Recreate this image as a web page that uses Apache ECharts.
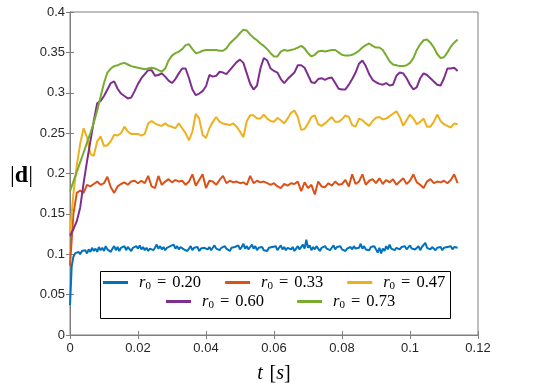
<!DOCTYPE html>
<html>
<head>
<meta charset="utf-8">
<script src="https://cdn.jsdelivr.net/npm/echarts@6/dist/echarts.min.js"></script>
<style>
html,body{margin:0;padding:0;background:#fff;}
#chart{width:545px;height:388px;}
</style>
</head>
<body>
<div id="chart"></div>
<script>
var r0Labels = ['0.20', '0.33', '0.47', '0.60', '0.73'];
var colors = ['#0072BD', '#D95319', '#EDB120', '#7E2F8E', '#77AC30'];
var xTickLabels = ['0', '0.02', '0.04', '0.06', '0.08', '0.1', '0.12'];
var yTickLabels = ['0', '0.05', '0.1', '0.15', '0.2', '0.25', '0.3', '0.35', '0.4'];

// r0 = 0.20, sampled every 0.0005 s
var d020 = [
    0.037, 0.085, 0.097, 0.101, 0.099, 0.103, 0.100, 0.104, 0.102, 0.105, 0.101, 0.106, 0.103, 0.108, 0.104, 0.107, 0.103, 0.109, 0.105, 0.108,
    0.104, 0.110, 0.106, 0.108, 0.103, 0.107, 0.110, 0.105, 0.109, 0.104, 0.108, 0.106, 0.110, 0.105, 0.109, 0.107, 0.104, 0.108, 0.106, 0.110,
    0.107, 0.111, 0.106, 0.109, 0.105, 0.108, 0.104, 0.107, 0.109, 0.105, 0.108, 0.112, 0.107, 0.110, 0.106, 0.109, 0.105, 0.108, 0.106, 0.110,
    0.108, 0.112, 0.107, 0.110, 0.106, 0.109, 0.111, 0.106, 0.108, 0.104, 0.107, 0.110, 0.105, 0.108, 0.106, 0.109, 0.104, 0.107, 0.105, 0.108,
    0.110, 0.106, 0.109, 0.105, 0.108, 0.111, 0.107, 0.109, 0.105, 0.108, 0.106, 0.110, 0.107, 0.109, 0.104, 0.108, 0.106, 0.109, 0.107, 0.111,
    0.106, 0.109, 0.113, 0.107, 0.110, 0.106, 0.109, 0.112, 0.107, 0.110, 0.105, 0.108, 0.106, 0.109, 0.105, 0.107, 0.104, 0.108, 0.106, 0.109,
    0.107, 0.110, 0.105, 0.108, 0.111, 0.106, 0.109, 0.105, 0.108, 0.110, 0.106, 0.109, 0.104, 0.107, 0.110, 0.106, 0.108, 0.112, 0.107, 0.118,
    0.108, 0.111, 0.105, 0.109, 0.106, 0.110, 0.107, 0.104, 0.108, 0.106, 0.110, 0.107, 0.109, 0.105, 0.108, 0.111, 0.106, 0.109, 0.107, 0.110,
    0.106, 0.108, 0.104, 0.107, 0.105, 0.109, 0.106, 0.110, 0.107, 0.105, 0.108, 0.113, 0.107, 0.110, 0.106, 0.108, 0.105, 0.109, 0.107, 0.110,
    0.106, 0.102, 0.108, 0.101, 0.107, 0.104, 0.110, 0.106, 0.112, 0.107, 0.109, 0.105, 0.108, 0.110, 0.106, 0.109, 0.107, 0.110, 0.106, 0.108,
    0.111, 0.107, 0.109, 0.106, 0.108, 0.110, 0.105, 0.109, 0.107, 0.114, 0.108, 0.110, 0.106, 0.109, 0.107, 0.105, 0.108, 0.106, 0.109, 0.105,
    0.108, 0.106, 0.109, 0.107, 0.110, 0.106, 0.109, 0.107, 0.108
];
// the others every 0.001 s
var d033 = [
    0.086, 0.150, 0.176, 0.179, 0.176, 0.186, 0.184, 0.187, 0.190, 0.186,
    0.188, 0.196, 0.183, 0.176, 0.184, 0.187, 0.189, 0.186, 0.190, 0.191,
    0.188, 0.191, 0.188, 0.197, 0.184, 0.182, 0.197, 0.186, 0.190, 0.193,
    0.189, 0.192, 0.190, 0.191, 0.186, 0.190, 0.199, 0.185, 0.192, 0.199,
    0.182, 0.191, 0.190, 0.186, 0.192, 0.197, 0.188, 0.191, 0.189, 0.190,
    0.188, 0.189, 0.186, 0.197, 0.188, 0.191, 0.189, 0.190, 0.188, 0.186,
    0.188, 0.184, 0.182, 0.187, 0.185, 0.188, 0.187, 0.190, 0.178, 0.189,
    0.182, 0.186, 0.174, 0.190, 0.184, 0.183, 0.188, 0.185, 0.190, 0.186,
    0.187, 0.192, 0.184, 0.199, 0.187, 0.190, 0.199, 0.186, 0.191, 0.193,
    0.188, 0.194, 0.187, 0.192, 0.189, 0.193, 0.186, 0.190, 0.194, 0.187,
    0.191, 0.199, 0.189, 0.186, 0.182, 0.190, 0.193, 0.188, 0.190, 0.189,
    0.191, 0.188, 0.192, 0.199, 0.188
];
var d047 = [
    0.125, 0.175, 0.210, 0.237, 0.256, 0.245, 0.224, 0.222, 0.240, 0.246,
    0.234, 0.235, 0.240, 0.248, 0.247, 0.250, 0.258, 0.252, 0.249, 0.249,
    0.249, 0.247, 0.249, 0.262, 0.265, 0.262, 0.260, 0.259, 0.262, 0.259,
    0.258, 0.256, 0.262, 0.256, 0.250, 0.241, 0.252, 0.274, 0.268, 0.248,
    0.244, 0.256, 0.264, 0.270, 0.264, 0.262, 0.261, 0.260, 0.262, 0.258,
    0.252, 0.245, 0.265, 0.272, 0.272, 0.268, 0.268, 0.273, 0.268, 0.265,
    0.264, 0.269, 0.266, 0.262, 0.268, 0.275, 0.278, 0.270, 0.254, 0.255,
    0.262, 0.270, 0.272, 0.261, 0.259, 0.262, 0.266, 0.270, 0.264, 0.264,
    0.267, 0.272, 0.270, 0.260, 0.258, 0.268, 0.266, 0.262, 0.259, 0.265,
    0.269, 0.270, 0.267, 0.268, 0.271, 0.274, 0.277, 0.270, 0.259, 0.266,
    0.273, 0.268, 0.261, 0.264, 0.268, 0.258, 0.258, 0.264, 0.273, 0.265,
    0.261, 0.259, 0.257, 0.262, 0.261
];
var d060 = [
    0.123, 0.131, 0.141, 0.158, 0.188, 0.215, 0.240, 0.265, 0.287, 0.290,
    0.296, 0.304, 0.312, 0.314, 0.305, 0.299, 0.296, 0.293, 0.294, 0.302,
    0.311, 0.318, 0.323, 0.328, 0.328, 0.321, 0.322, 0.324, 0.320, 0.315,
    0.312, 0.317, 0.324, 0.330, 0.330, 0.318, 0.304, 0.297, 0.299, 0.302,
    0.308, 0.322, 0.320, 0.321, 0.326, 0.325, 0.323, 0.328, 0.333, 0.338,
    0.341, 0.337, 0.324, 0.311, 0.304, 0.309, 0.330, 0.343, 0.340, 0.330,
    0.327, 0.325, 0.317, 0.312, 0.317, 0.321, 0.325, 0.334, 0.334, 0.331,
    0.322, 0.313, 0.312, 0.317, 0.318, 0.316, 0.318, 0.319, 0.312, 0.305,
    0.304, 0.304, 0.310, 0.317, 0.325, 0.336, 0.340, 0.333, 0.323, 0.316,
    0.313, 0.311, 0.310, 0.312, 0.309, 0.310, 0.321, 0.325, 0.324, 0.318,
    0.310, 0.304, 0.307, 0.318, 0.324, 0.322, 0.318, 0.314, 0.310, 0.309,
    0.318, 0.330, 0.330, 0.331, 0.327
];
var d073 = [
    0.178, 0.190, 0.202, 0.214, 0.226, 0.238, 0.250, 0.263, 0.278, 0.295,
    0.312, 0.325, 0.330, 0.333, 0.334, 0.336, 0.337, 0.335, 0.333, 0.332,
    0.331, 0.330, 0.329, 0.330, 0.331, 0.330, 0.328, 0.326, 0.330, 0.340,
    0.346, 0.349, 0.351, 0.354, 0.359, 0.360, 0.354, 0.349, 0.350, 0.352,
    0.353, 0.353, 0.353, 0.353, 0.352, 0.352, 0.355, 0.361, 0.365, 0.369,
    0.374, 0.378, 0.377, 0.372, 0.368, 0.365, 0.361, 0.358, 0.354, 0.349,
    0.345, 0.345, 0.351, 0.353, 0.352, 0.353, 0.354, 0.356, 0.358, 0.355,
    0.349, 0.345, 0.347, 0.351, 0.352, 0.351, 0.352, 0.353, 0.353, 0.350,
    0.347, 0.346, 0.346, 0.347, 0.349, 0.352, 0.356, 0.359, 0.361, 0.358,
    0.356, 0.356, 0.353, 0.346, 0.339, 0.335, 0.334, 0.333, 0.333, 0.334,
    0.337, 0.343, 0.353, 0.360, 0.365, 0.366, 0.362, 0.356, 0.348, 0.343,
    0.344, 0.350, 0.357, 0.362, 0.366
];
var allData = [d020, d033, d047, d060, d073];
var steps = [0.0005, 0.001, 0.001, 0.001, 0.001];

var chart = echarts.init(document.getElementById('chart'));

function pairs(vals, dt) {
    var out = [];
    for (var i = 0; i < vals.length; i++) {
        out.push([+(i * dt).toFixed(4), vals[i]]);
    }
    return out;
}

var names = [];
var series = [];
for (var k = 0; k < allData.length; k++) {
    names.push('r0 = ' + r0Labels[k]);
    series.push({
        name: names[k],
        type: 'line',
        showSymbol: false,
        symbol: 'none',
        data: pairs(allData[k], steps[k]),
        lineStyle: {width: 2, color: colors[k]},
        itemStyle: {color: colors[k]},
        animation: false
    });
}

// r_0 = x.xx, LaTeX-ish
var legendText = {
    fontFamily: 'Liberation Serif',
    fontSize: 16,
    color: '#000',
    rich: {
        i: {fontFamily: 'Liberation Serif', fontStyle: 'italic', fontSize: 16.5, lineHeight: 18, padding: [0, 0, 0, 6]},
        s: {fontFamily: 'Liberation Serif', fontSize: 11, lineHeight: 10, verticalAlign: 'bottom'},
        e: {fontFamily: 'Liberation Serif', fontSize: 16.5, lineHeight: 18, padding: [0, 6, 0, 6]},
        n: {fontFamily: 'Liberation Serif', fontSize: 16.5, lineHeight: 18}
    }
};
function legendFmt(name) {
    return '{i|r}{s|0}{e|=}{n|' + name.split('= ')[1] + '}';
}

var axisGray = '#7f7f7f';
var labelFont = {fontFamily: 'Liberation Sans', fontSize: 13, color: '#262626'};

chart.setOption({
    backgroundColor: '#fff',
    animation: false,
    color: colors,
    grid: {
        left: 70, right: 67, top: 12, bottom: 53,
        outerBoundsMode: 'none',
        show: true, borderColor: axisGray, borderWidth: 1
    },
    graphic: [{
        type: 'rect',
        left: 100, top: 271,
        shape: {width: 350, height: 47},
        style: {fill: '#fff', stroke: '#000', lineWidth: 1},
        z: 10
    }],
    legend: [{
        data: names.slice(0, 3),
        left: 103, top: 274, padding: 0,
        itemWidth: 25, itemHeight: 3, itemGap: 24,
        icon: 'rect',
        textStyle: legendText,
        formatter: legendFmt,
        z: 20
    }, {
        data: names.slice(3),
        left: 166, top: 293, padding: 0,
        itemWidth: 25, itemHeight: 3, itemGap: 33,
        icon: 'rect',
        textStyle: legendText,
        formatter: legendFmt,
        z: 20
    }],
    xAxis: [{
        type: 'value', min: 0, max: 0.12, interval: 0.02,
        name: '{t|t}  {b|[}{s|s}{b|]}',
        nameLocation: 'middle', nameGap: 29,
        nameTextStyle: {
            rich: {
                t: {fontFamily: 'Liberation Serif', fontStyle: 'italic', fontSize: 20, color: '#000'},
                s: {fontFamily: 'Liberation Serif', fontStyle: 'italic', fontSize: 20, color: '#000'},
                b: {fontFamily: 'Liberation Serif', fontSize: 20, color: '#000'}
            }
        },
        axisLine: {show: true, lineStyle: {color: axisGray}},
        axisTick: {inside: true, length: 4, lineStyle: {color: axisGray}},
        axisLabel: Object.assign({margin: 7, formatter: function (v, i) { return xTickLabels[i]; }}, labelFont),
        splitLine: {show: false}
    }, {
        type: 'value', min: 0, max: 0.12, interval: 0.02, position: 'top',
        axisLine: {show: true, lineStyle: {color: axisGray}},
        axisTick: {inside: true, length: 4, lineStyle: {color: axisGray}},
        axisLabel: {show: false},
        splitLine: {show: false}
    }],
    yAxis: [{
        type: 'value', min: 0, max: 0.4, interval: 0.05,
        name: '{b||}{d|d}{b||}',
        nameLocation: 'middle', nameGap: 37, nameRotate: 0,
        nameTextStyle: {
            padding: [4, 0, 0, 0],
            rich: {
                d: {fontFamily: 'Liberation Serif', fontWeight: 'bold', fontSize: 24, color: '#000'},
                b: {fontFamily: 'Liberation Serif', fontSize: 24, color: '#000'}
            }
        },
        axisLine: {show: true, lineStyle: {color: axisGray}},
        axisTick: {show: true, inside: true, length: 4, lineStyle: {color: axisGray}},
        axisLabel: Object.assign({margin: 5, formatter: function (v, i) { return yTickLabels[i]; }}, labelFont),
        splitLine: {show: false}
    }, {
        type: 'value', min: 0, max: 0.4, interval: 0.05, position: 'right',
        axisLine: {show: true, lineStyle: {color: axisGray}},
        axisTick: {show: true, inside: true, length: 4, lineStyle: {color: axisGray}},
        axisLabel: {show: false},
        splitLine: {show: false}
    }],
    series: series
});
</script>
</body>
</html>
